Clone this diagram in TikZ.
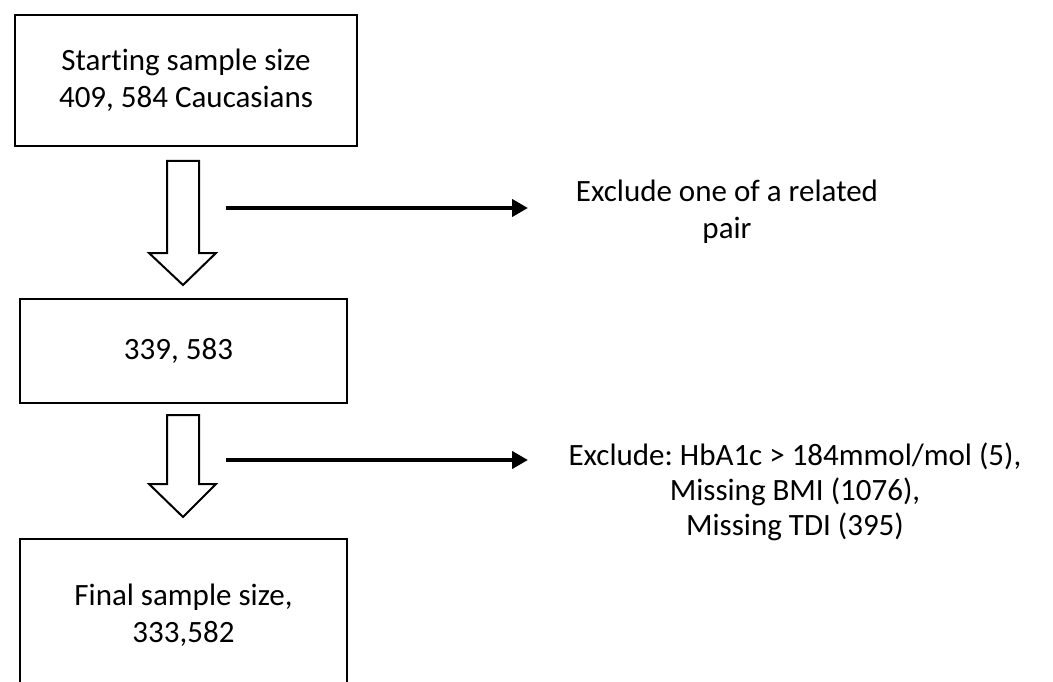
\documentclass[tikz,border=0pt]{standalone}
\usepackage{fontspec}
\setmainfont[Ligatures=NoCommon]{Carlito}
\frenchspacing
\usetikzlibrary{arrows.meta}
\begin{document}
\begin{tikzpicture}[x=1pt,y=-1pt,
  every node/.style={font=\fontsize{31}{37}\selectfont},
  box/.style={draw,line width=2.5pt,inner sep=0pt,align=center},
  lbl/.style={align=center,inner sep=0pt},
  blockarrow/.style={draw,line width=2pt,fill=white,line join=miter},
  exarrow/.style={line width=4pt,-{Triangle[length=16pt,width=17pt]}}]
\useasboundingbox (0,0) rectangle (1053,682);
\fill[white] (0,0) rectangle (1053,682);
\begin{scope}
\clip (0,0) rectangle (1053,682);
% boxes
\node[box,minimum width=342pt,minimum height=131pt] (b1) at (186,80.5) {Starting sample size\\409, 584 Caucasians};
\node[box,minimum width=327pt,minimum height=104pt] (b2) at (183.5,351) {339, 583\hspace*{10pt}};
\node[box,minimum width=327pt,minimum height=152pt] (b3) at (183.5,615) {Final sample size,\\333,582};
% block arrows
\draw[blockarrow] (167,161) -- (199,161) -- (199,253) -- (216,253) -- (183,285) -- (149,253) -- (167,253) -- cycle;
\draw[blockarrow] (167,415) -- (199,415) -- (199,484) -- (216,484) -- (183,517) -- (149,484) -- (167,484) -- cycle;
% exclusion labels
\node[lbl] (ex1) at (727,212) {Exclude one of a related\\pair};
\node[lbl] (ex2) at (795,492) {Exclude: HbA1c > 184mmol/mol (5),\\[-2pt]Missing BMI (1076),\\[-2pt]Missing TDI (395)};
\coordinate (h1s) at (226,208);
\coordinate (h1e) at (528,208);
\coordinate (h2s) at (226,460);
\coordinate (h2e) at (528,460);
\draw[exarrow] (h1s) -- (h1e);
\draw[exarrow] (h2s) -- (h2e);
\end{scope}
\end{tikzpicture}
\end{document}
